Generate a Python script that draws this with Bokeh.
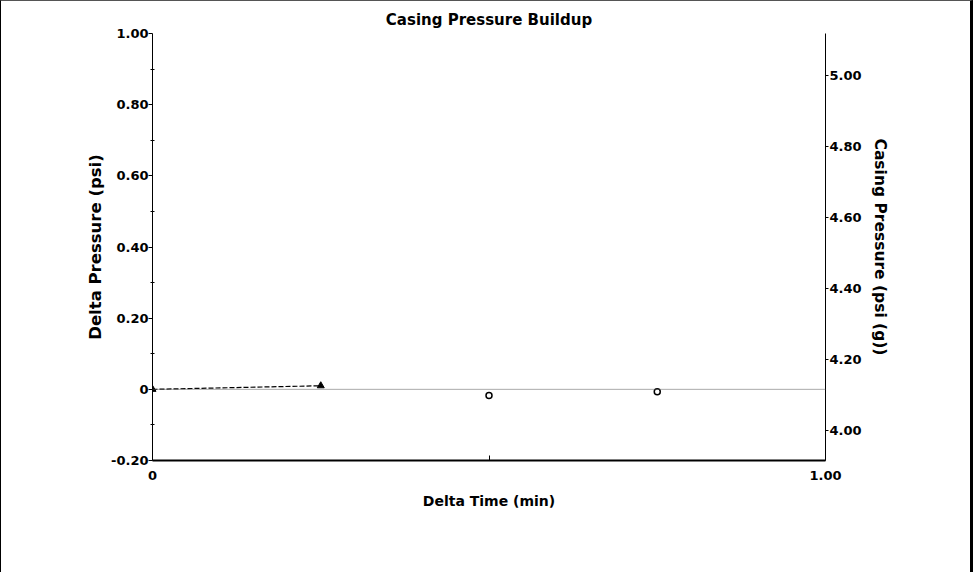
from bokeh.plotting import figure
from bokeh.models import Range1d, LinearAxis, FixedTicker, Span, NumeralTickFormatter
from bokeh.embed import file_html
from bokeh.resources import INLINE

# ---- data ----
title_text = "Casing Pressure Buildup"
x_label = "Delta Time (min)"
y_label = "Delta Pressure (psi)"
y2_label = "Casing Pressure (psi (g))"

delta_time = [0.0, 0.25]
delta_pressure = [0.0, 0.01]

casing_time = [0.5, 0.75]
casing_pressure = [4.10, 4.11]

x_ticks = [0.0, 0.5, 1.0]
y_ticks = [-0.2, 0.0, 0.2, 0.4, 0.6, 0.8, 1.0]
y_minor = [-0.1, 0.1, 0.3, 0.5, 0.7, 0.9]
y2_ticks = [4.0, 4.2, 4.4, 4.6, 4.8, 5.0]

FONT = "DejaVu Sans"

p = figure(width=973, height=572, output_backend="svg", toolbar_location=None,
           x_range=Range1d(0, 1), y_range=Range1d(-0.2, 1.0),
           min_border_left=151, min_border_right=149, min_border_top=32, min_border_bottom=113)
p.outline_line_color = None
p.xgrid.visible = False
p.ygrid.visible = False
p.background_fill_color = "white"
p.border_fill_color = "white"
p.styles = {"border-left": "1px solid #000", "border-top": "1px solid #555",
            "border-right": "3px solid #000"}

p.title.text = title_text
p.title.align = "center"
p.title.text_font = FONT
p.title.text_font_style = "bold"
p.title.text_font_size = "15px"
p.title.text_color = "black"
p.title.standoff = 10
p.title.offset = 6

p.extra_y_ranges = {"casing": Range1d(3.917, 5.117)}

# x axis
xa = p.xaxis[0]
xa.ticker = FixedTicker(ticks=x_ticks, minor_ticks=[])
xa.formatter = NumeralTickFormatter(format="0.00")
xa.major_label_overrides = {0.0: "0", 0.5: ""}
xa.axis_label = x_label
xa.axis_line_width = 2
xa.major_tick_in = 5
xa.major_tick_out = 0
xa.minor_tick_in = 0
xa.minor_tick_out = 0
xa.major_label_standoff = 10
xa.axis_label_standoff = 10

# left y axis
ya = p.yaxis[0]
ya.ticker = FixedTicker(ticks=y_ticks, minor_ticks=y_minor)
ya.formatter = NumeralTickFormatter(format="0.00")
ya.major_label_overrides = {0.0: "0"}
ya.axis_label = y_label
ya.major_tick_in = 0
ya.major_tick_out = 4
ya.minor_tick_in = 2
ya.minor_tick_out = 2
ya.major_label_standoff = 0
ya.axis_label_standoff = 3

# right y axis
y2 = LinearAxis(y_range_name="casing", axis_label=y2_label)
y2.ticker = FixedTicker(ticks=y2_ticks, minor_ticks=[])
y2.formatter = NumeralTickFormatter(format="0.00")
y2.major_tick_in = 0
y2.major_tick_out = 3
y2.minor_tick_in = 0
y2.minor_tick_out = 0
y2.major_label_standoff = 1
y2.axis_label_standoff = 6
p.add_layout(y2, "right")

for ax in (xa, ya, y2):
    ax.axis_line_color = "black"
    ax.major_tick_line_color = "black"
    ax.minor_tick_line_color = "black"
    ax.major_label_text_font = FONT
    ax.major_label_text_font_style = "bold"
    ax.major_label_text_font_size = "13px"
    ax.major_label_text_color = "black"
    ax.axis_label_text_font = FONT
    ax.axis_label_text_font_style = "bold"
    ax.axis_label_text_color = "black"
xa.axis_label_text_font_size = "14px"
ya.axis_label_text_font_size = "16.5px"
y2.axis_label_text_font_size = "15.5px"

# zero reference line
p.add_layout(Span(location=0, dimension="width", line_color="#555555",
                  line_width=1, line_dash="1 1"))

# delta pressure series
p.line(delta_time, delta_pressure, line_color="black", line_width=1.2, line_dash="5 2")
p.scatter(delta_time, delta_pressure, marker="triangle", size=7,
          fill_color="black", line_color="black")

# casing pressure series
p.scatter(casing_time, casing_pressure, y_range_name="casing", marker="circle", size=6,
          fill_color="white", line_color="black", line_width=1.5)

open("out.html", "w").write(file_html(p, INLINE))
